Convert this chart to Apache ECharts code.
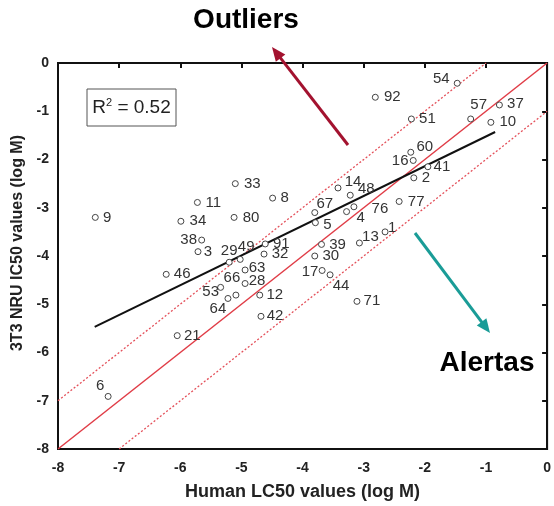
<!DOCTYPE html>
<html><head><meta charset="utf-8">
<script src="https://cdn.jsdelivr.net/npm/echarts@6/dist/echarts.min.js"></script>
<style>html,body{margin:0;padding:0;background:#fff}#c{width:554px;height:506px}</style>
</head><body><div id="c"></div>
<script>
// compound ids, x = Human LC50 (log M), y = 3T3 NRU IC50 (log M)
const ids   = ['92','54','57','37','51','10','60','16','41','2','14','48','67','4','76','77','5','13','1','39','30','17','44','71','33','8','11','80','34','9','38','3','29','49','91','32','63','46','66','28','53','64','12','42','21','6'];
const xVals = [-2.81,-1.47,-1.25,-0.78,-2.22,-0.92,-2.23,-2.19,-1.95,-2.18,-3.42,-3.22,-3.80,-3.28,-3.16,-2.42,-3.79,-3.07,-2.65,-3.69,-3.80,-3.68,-3.55,-3.11,-5.10,-4.49,-5.72,-5.12,-5.99,-7.39,-5.65,-5.71,-5.20,-5.02,-4.61,-4.63,-4.94,-6.23,-5.09,-4.94,-5.34,-5.22,-4.70,-4.68,-6.05,-7.18];
const yVals = [-0.71,-0.42,-1.16,-0.87,-1.16,-1.23,-1.85,-2.02,-2.15,-2.38,-2.59,-2.74,-3.10,-3.08,-2.98,-2.87,-3.31,-3.73,-3.50,-3.76,-4.00,-4.30,-4.39,-4.94,-2.50,-2.80,-2.89,-3.20,-3.28,-3.20,-3.67,-3.91,-4.13,-4.07,-3.75,-3.96,-4.29,-4.38,-4.81,-4.57,-4.65,-4.88,-4.81,-5.25,-5.65,-6.91];
// label offsets (px) from marker centre
const labelDX = [17,-16,8,16,16,17,14,-13,14,12,15,16,10,14,26,17,12,11,7,16,16,-12,11,15,17,12,16,17,17,12,-13,10,0,6,16,16,12,16,-4,12,-10,-10,15,14,15,-8];
const labelDY = [0,-4,-14,-1,0,0,-5,0,0,0,-6,-6,-9,6,2,0,2,-6,-4,0,0,1,11,0,0,0,0,0,0,0,0,0,-11,-13,0,0,-2,0,-17,-3,4,10,0,0,0,-11];
// regression fit
const fitX = [-7.40, -0.85];
const fitY = [-5.47, -1.43];
// identity and ±1 log reference lines
const idX = [-8, 0], idY = [-8, 0];
const upX = [-8, -1], upY = [-7, 0];
const loX = [-7, 0], loY = [-8, -1];
const r2Text = '0.52';

const pts = ids.map((id, i) => ({ name: id, value: [xVals[i], yVals[i]] }));
const pair = (xs, ys) => xs.map((x, i) => [x, ys[i]]);

const chart = echarts.init(document.getElementById('c'));
function arrow(S, T, color) {
  const dx = T[0]-S[0], dy = T[1]-S[1], L = Math.hypot(dx, dy);
  const ux = dx/L, uy = dy/L, nx = -uy, ny = ux, h = 14, w = 6;
  return [
    { type: 'line', shape: { x1: S[0], y1: S[1], x2: T[0]-ux*h*0.8, y2: T[1]-uy*h*0.8 }, style: { stroke: color, lineWidth: 3 }, z: 100 },
    { type: 'polygon', shape: { points: [[T[0], T[1]], [T[0]-ux*h+nx*w, T[1]-uy*h+ny*w], [T[0]-ux*h-nx*w, T[1]-uy*h-ny*w]] }, style: { fill: color }, z: 100 }
  ];
}
const F = 'Liberation Sans, Arial';
const axisCommon = {
  type: 'value', min: -8, max: 0, interval: 1,
  axisLine: { show: true, lineStyle: { color: '#111', width: 2 } },
  axisTick: { show: true, inside: false, length: 5, lineStyle: { color: '#111', width: 2 } },
  splitLine: { show: false },
  nameLocation: 'middle'
};
const tickLbl = { color: '#222', fontFamily: F, fontWeight: 'bold', fontSize: 14 };
chart.setOption({
  animation: false,
  backgroundColor: '#fff',
  grid: { left: 58, right: 3, top: 63, bottom: 56, show: true, borderColor: '#111', borderWidth: 2, backgroundColor: 'transparent' },
  xAxis: Object.assign({}, axisCommon, { name: 'Human LC50 values (log M)', nameGap: 34,
    nameTextStyle: { color: '#222', fontFamily: F, fontWeight: 'bold', fontSize: 18 },
    axisLabel: Object.assign({}, tickLbl, { margin: 12 }) }),
  yAxis: Object.assign({}, axisCommon, { name: '3T3 NRU IC50 values (log M)', nameGap: 27,
    nameTextStyle: { color: '#222', fontFamily: F, fontWeight: 'bold', fontSize: 16, padding: [0, 0, 0, 26] },
    axisLabel: Object.assign({}, tickLbl, { margin: 9 }) }),
  series: [
    { type: 'line', data: pair(idX, idY), symbol: 'none', lineStyle: { color: '#e03c46', width: 1.5 }, z: 2 },
    { type: 'line', data: pair(upX, upY), symbol: 'none', lineStyle: { color: '#e4505a', width: 1.3, type: [2, 2] }, z: 2 },
    { type: 'line', data: pair(loX, loY), symbol: 'none', lineStyle: { color: '#e4505a', width: 1.3, type: [2, 2] }, z: 2 },
    { type: 'line', data: pair(fitX, fitY), symbol: 'none', lineStyle: { color: '#111', width: 2 }, z: 3 },
    { type: 'scatter', data: pts, symbol: 'circle', symbolSize: 6,
      itemStyle: { color: '#fff', borderColor: '#444', borderWidth: 1, opacity: 1 },
      label: { show: true, position: 'inside', formatter: '{b}', color: '#333', fontFamily: F, fontSize: 15, align: 'center', verticalAlign: 'middle' },
      labelLayout: function (p) { return { dx: labelDX[p.dataIndex], dy: labelDY[p.dataIndex], hideOverlap: false }; },
      z: 4 }
  ],
  graphic: [
    { type: 'rect', shape: { x: 87, y: 89, width: 89, height: 37 }, style: { fill: '#fff', stroke: '#555', lineWidth: 1 }, z: 50 },
    { type: 'text', x: 131.5, y: 108, style: { text: '{r|R}{s|2}{r| = ' + r2Text + '}', align: 'center', verticalAlign: 'middle',
      rich: { r: { fontSize: 19, fontFamily: F, fill: '#222' }, s: { fontSize: 11, fontFamily: F, fill: '#222', verticalAlign: 'top', padding: [0,0,10,0] } } }, z: 51 },
    { type: 'text', x: 246, y: 20, style: { text: 'Outliers', fontSize: 28, fontWeight: 'bold', fontFamily: F, fill: '#000', align: 'center', verticalAlign: 'middle' }, z: 60 },
    { type: 'text', x: 487, y: 363, style: { text: 'Alertas', fontSize: 28, fontWeight: 'bold', fontFamily: F, fill: '#000', align: 'center', verticalAlign: 'middle' }, z: 60 },
    ...arrow([348, 145], [272, 47], '#a3122f'),
    ...arrow([415, 233], [490, 333], '#1a9c97')
  ]
});
</script></body></html>
